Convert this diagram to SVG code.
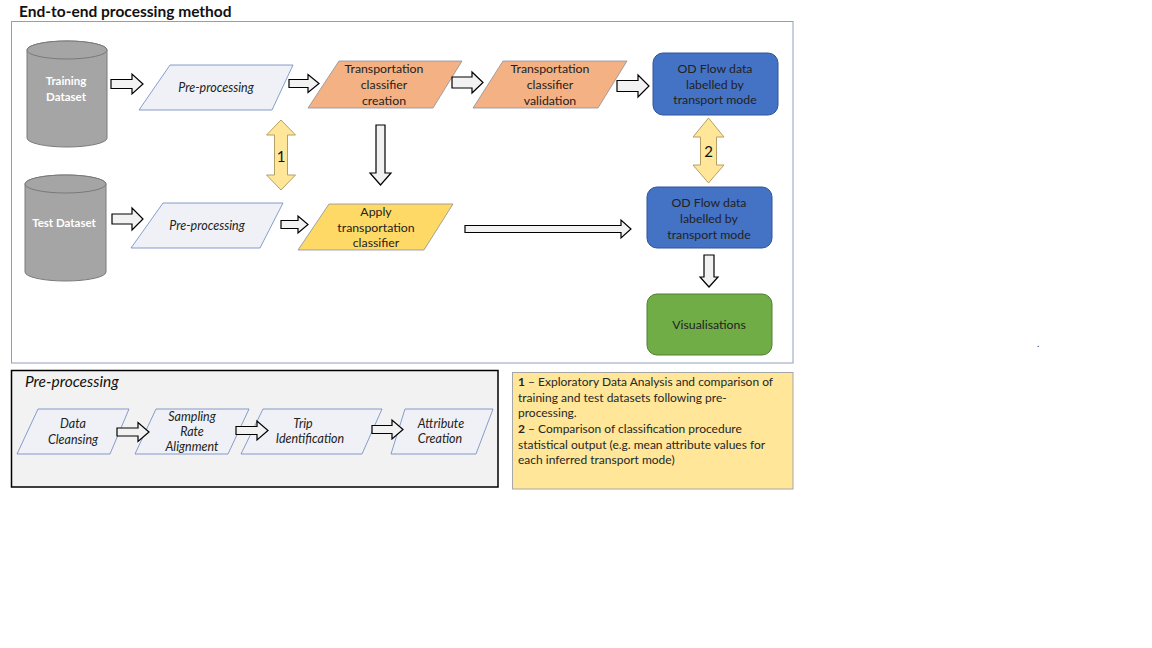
<svg xmlns="http://www.w3.org/2000/svg" width="1152" height="648" viewBox="0 0 1152 648">
<style>
text{font-family:Lato,"Open Sans","Liberation Sans",sans-serif;fill:#222}
.t{font-size:12.3px;text-anchor:middle}
.it{font-size:12.5px;font-style:italic;text-anchor:middle}
.w{fill:#fff;font-weight:bold;font-size:11.5px;text-anchor:middle}
.cyl{fill:#a5a5a5;stroke:#7a7a7a;stroke-width:1}
.pp{fill:#eff1f6;stroke:#6a86c0;stroke-width:0.8}
.or{fill:#f4b183;stroke:#8a8f9c;stroke-width:0.8}
.ye{fill:#ffd966;stroke:#8a8f9c;stroke-width:0.8}
.bl{fill:#4472c4;stroke:#2f5597;stroke-width:1}
.gr{fill:#70ad47;stroke:#507e32;stroke-width:1}
.ba{fill:#f2f2f2;stroke:#000;stroke-width:1.2;stroke-linejoin:miter}
.da{fill:#ffe699;stroke:#b4a064;stroke-width:1}
.note{font-size:12px;fill:#262626}
</style>
<rect width="1152" height="648" fill="#fff"/>
<text x="19" y="17" style="font-size:15.5px;font-weight:bold;fill:#111">End-to-end processing method</text>
<rect x="11.5" y="21.5" width="781.5" height="341.5" fill="#fff" stroke="#8ea0b8" stroke-width="1"/>
<g id="prepanel">
<rect x="11.5" y="370.5" width="486.5" height="116.5" fill="#f2f2f2" stroke="#000" stroke-width="1.5"/>
<text x="25" y="387" style="font-size:15.5px;font-style:italic;fill:#111">Pre-processing</text>
</g>

<g id="training">
<path class="cyl" d="M27,50 L27,138 A40,9 0 0 0 107,138 L107,50 A40,9 0 0 0 27,50 Z"/>
<ellipse class="cyl" cx="67" cy="50" rx="40" ry="9"/>
<text class="w" x="66" y="85">Training</text>
<text class="w" x="66" y="101">Dataset</text>
</g>
<g id="test">
<path class="cyl" d="M25,184 L25,272 A40.5,9 0 0 0 106,272 L106,184 A40.5,9 0 0 0 25,184 Z"/>
<ellipse class="cyl" cx="65.5" cy="184" rx="40.5" ry="9"/>
<text class="w" x="64" y="227">Test Dataset</text>
</g>
<g id="pre1">
<polygon class="pp" points="170,65 293,65 272,110 139,110"/>
<text class="it" x="216" y="92">Pre-processing</text>
</g>
<g id="pre2">
<polygon class="pp" points="163,203 283,203 260,248 131,248"/>
<text class="it" x="207" y="230">Pre-processing</text>
</g>
<g id="creation">
<polygon class="or" points="339,61 462,61 433,108 308,108"/>
<text class="t" x="384" y="73">Transportation</text>
<text class="t" x="384" y="89">classifier</text>
<text class="t" x="384" y="105">creation</text>
</g>
<g id="validation">
<polygon class="or" points="503,61 627,61 598,108 473,108"/>
<text class="t" x="550" y="73">Transportation</text>
<text class="t" x="550" y="89">classifier</text>
<text class="t" x="550" y="105">validation</text>
</g>
<g id="apply">
<polygon class="ye" points="329,204 453,204 424,250 298,250"/>
<text class="t" x="376" y="216">Apply</text>
<text class="t" x="376" y="232">transportation</text>
<text class="t" x="376" y="247">classifier</text>
</g>
<g id="od1">
<rect class="bl" x="653" y="53" width="125" height="62" rx="10"/>
<text class="t" x="715" y="73">OD Flow data</text>
<text class="t" x="715" y="89">labelled by</text>
<text class="t" x="715" y="104">transport mode</text>
</g>
<g id="od2">
<rect class="bl" x="647" y="187" width="125" height="61" rx="10"/>
<text class="t" x="709" y="207">OD Flow data</text>
<text class="t" x="709" y="223">labelled by</text>
<text class="t" x="709" y="239">transport mode</text>
</g>
<g id="vis">
<rect class="gr" x="647" y="294" width="125" height="61" rx="10"/>
<text class="t" x="709" y="329">Visualisations</text>
</g>
<g id="cleansing">
<polygon class="pp" points="38,409 129,409 110,454 17,454"/>
<text class="it" x="73" y="428">Data</text>
<text class="it" x="73" y="444">Cleansing</text>
</g>
<g id="sampling">
<polygon class="pp" points="156,409 249,409 228,454 135,454"/>
<text class="it" x="192" y="421">Sampling</text>
<text class="it" x="192" y="436">Rate</text>
<text class="it" x="192" y="451">Alignment</text>
</g>
<g id="trip">
<polygon class="pp" points="263,409 382,409 362,454 241,454"/>
<text class="it" x="303" y="428">Trip</text>
<text class="it" x="310" y="443">Identification</text>
</g>
<g id="attribute">
<polygon class="pp" points="405,409 493,409 476,454 391,454"/>
<text class="it" x="441" y="428">Attribute</text>
<text class="it" x="440" y="443">Creation</text>
</g>

<g id="connectors">
<path class="ba" d="M111,79.5 L132,79.5 L132,74 L143,84 L132,94 L132,88.5 L111,88.5 Z"/>
<path class="ba" d="M289,79.5 L308,79.5 L308,74.5 L319,83.5 L308,92.5 L308,87.5 L289,87.5 Z"/>
<path class="ba" d="M452,77 L472,77 L472,72 L483,82.5 L472,93 L472,88 L452,88 Z"/>
<path class="ba" d="M617,80.5 L638,80.5 L638,75 L649,86 L638,97 L638,91.5 L617,91.5 Z"/>
<path class="ba" d="M112,214 L132,214 L132,208 L143,219 L132,230 L132,224 L112,224 Z"/>
<path class="ba" d="M281,220.5 L298,220.5 L298,216 L308,224.5 L298,233 L298,228.5 L281,228.5 Z"/>
<path class="ba" d="M465,225.5 L621,225.5 L621,220 L631,229 L621,238 L621,232.5 L465,232.5 Z"/>
<path class="ba" d="M376,125 L385,125 L385,173 L391,173 L380.5,185 L370,173 L376,173 Z"/>
<path class="ba" d="M704,255 L714,255 L714,277 L718,277 L709,287 L700,277 L704,277 Z"/>
<path class="da" d="M281,120 L295.5,135 L287.5,135 L287.5,175 L295.5,175 L281,190 L266.5,175 L274.5,175 L274.5,135 L266.5,135 Z"/>
<text x="281" y="162" style="font-size:15px;text-anchor:middle;fill:#111">1</text>
<path class="da" d="M708.5,118 L724,137 L716.5,137 L716.5,165 L724,165 L708.5,183 L693,165 L700.5,165 L700.5,137 L693,137 Z"/>
<text x="708.5" y="157" style="font-size:15px;text-anchor:middle;fill:#111">2</text>
<path class="ba" d="M117,428 L138,428 L138,422.5 L149,432 L138,441.5 L138,436 L117,436 Z"/>
<path class="ba" d="M236,426.5 L257,426.5 L257,421 L268,430.5 L257,440 L257,434.5 L236,434.5 Z"/>
<path class="ba" d="M372,425.5 L392,425.5 L392,420 L403,429.5 L392,439 L392,433.5 L372,433.5 Z"/>
</g>

<g id="notes">
<rect x="512.5" y="372.5" width="280.5" height="116.5" fill="#ffe699" stroke="#a6a6a6" stroke-width="1"/>
<text class="note" x="518" y="386"><tspan font-weight="bold">1</tspan> – Exploratory Data Analysis and comparison of</text>
<text class="note" x="518" y="401.5">training and test datasets following pre-</text>
<text class="note" x="518" y="417">processing.</text>
<text class="note" x="518" y="433"><tspan font-weight="bold">2</tspan> – Comparison of classification procedure</text>
<text class="note" x="518" y="448.5">statistical output (e.g. mean attribute values for</text>
<text class="note" x="518" y="464">each inferred transport mode)</text>
</g>
<text x="1037" y="347" style="font-size:10px;fill:#333">.</text>
</svg>
